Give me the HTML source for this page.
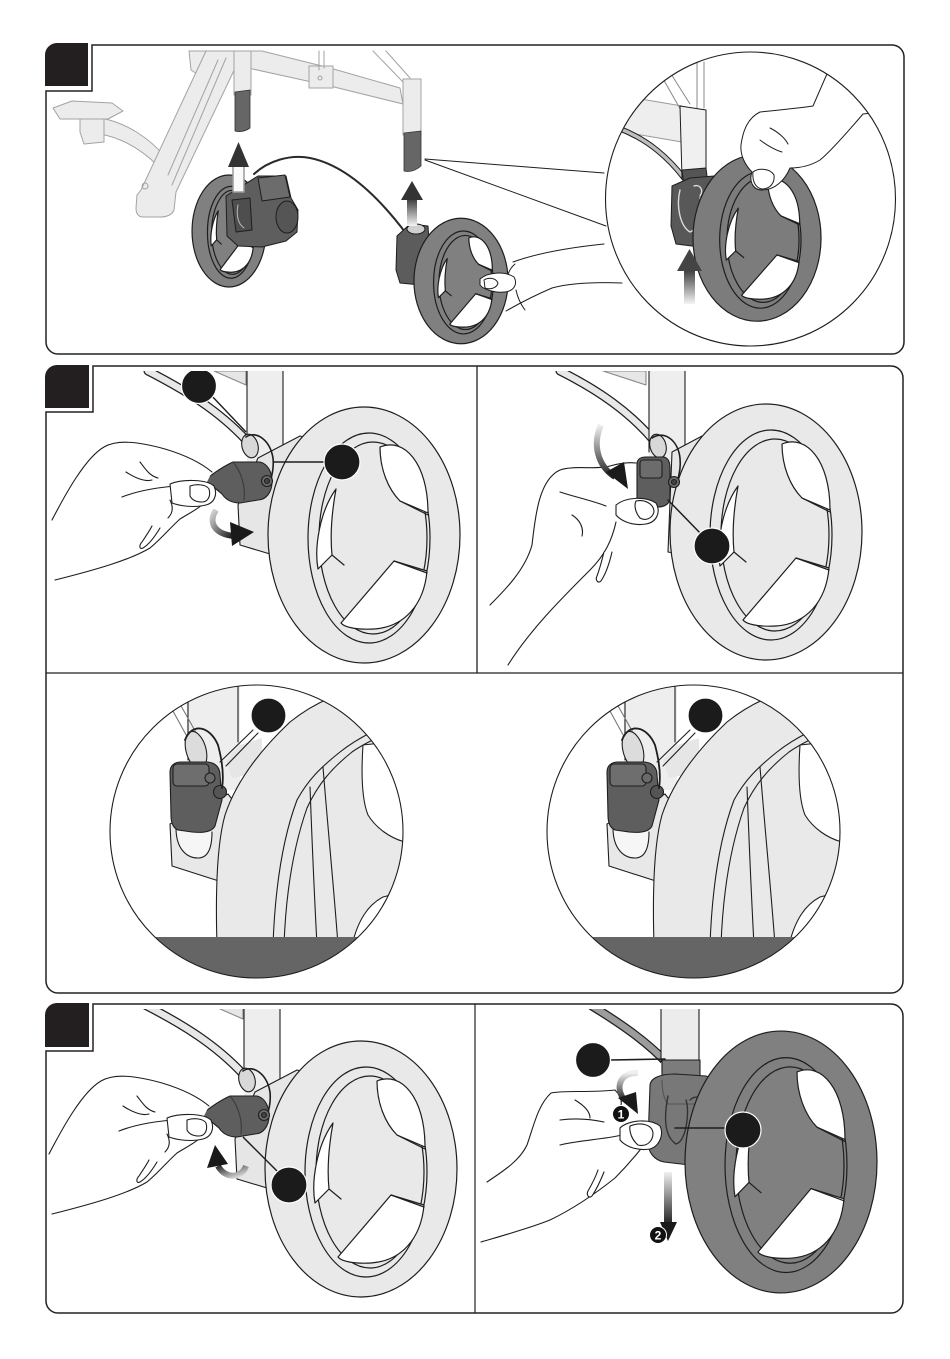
<!DOCTYPE html>
<html><head><meta charset="utf-8"><title>Wheel assembly</title>
<style>html,body{margin:0;padding:0;background:#fff}svg{display:block}</style>
</head><body>
<svg xmlns="http://www.w3.org/2000/svg" width="950" height="1359" viewBox="0 0 950 1359">
<defs>
<linearGradient id="gUp" x1="0" y1="0" x2="0" y2="1"><stop offset="0" stop-color="#3c3c3c"/><stop offset="1" stop-color="#f4f4f4"/></linearGradient>
<linearGradient id="gDn" x1="0" y1="0" x2="0" y2="1"><stop offset="0" stop-color="#f0f0f0"/><stop offset="1" stop-color="#222"/></linearGradient>
<linearGradient id="gR" x1="0" y1="0" x2="1" y2="1"><stop offset="0" stop-color="#d8d8d8"/><stop offset="1" stop-color="#1a1a1a"/></linearGradient>
<linearGradient id="gL" x1="1" y1="1" x2="0" y2="0"><stop offset="0" stop-color="#e4e4e4"/><stop offset="1" stop-color="#2a2a2a"/></linearGradient>
<clipPath id="c1"><rect x="47" y="50" width="856" height="303"/></clipPath>
<clipPath id="cz"><ellipse cx="750.5" cy="199" rx="145" ry="147"/></clipPath>
<clipPath id="c2L"><rect x="47" y="371" width="429" height="301"/></clipPath>
<clipPath id="c2R"><rect x="478" y="371" width="424" height="301"/></clipPath>
<clipPath id="ovc"><ellipse cx="256.5" cy="831.5" rx="146.5" ry="146.5"/></clipPath>
<clipPath id="c3L"><rect x="47" y="1009" width="427" height="303"/></clipPath>
<clipPath id="c3R"><rect x="476" y="1009" width="426" height="303"/></clipPath>

<g id="wheel" stroke="#1e1e1e" stroke-width="1.2" stroke-linejoin="round">
 <ellipse rx="96" ry="128" vector-effect="non-scaling-stroke"/>
 <ellipse cx="5" cy="3" rx="61" ry="105" vector-effect="non-scaling-stroke"/>
 <ellipse cx="9" cy="3" rx="54" ry="96" fill="none" vector-effect="non-scaling-stroke"/>
 <path d="M16,-88 C40,-98 64,-72 64,-22 L36,-34 C24,-46 16,-66 16,-88 Z" fill="#fff" vector-effect="non-scaling-stroke"/>
 <path d="M30,26 L63,36 C60,70 40,92 10,94 C-8,95 -20,92 -23,88 Z" fill="#fff" vector-effect="non-scaling-stroke"/>
 <path d="M-28,-46 C-44,-24 -50,12 -46,34 L-32,20 C-34,0 -32,-24 -28,-46 Z" fill="#fff" vector-effect="non-scaling-stroke"/>
 <path d="M36,-34 L64,-20 M30,26 L63,38 M-32,20 L-20,30" fill="none" vector-effect="non-scaling-stroke"/>
</g>

<g id="p2L" stroke="#1e1e1e" stroke-width="1.1" stroke-linejoin="round" stroke-linecap="round">
 <path d="M214,371 L246,371 L246,385 Z" fill="#e6e6e6" stroke="#888"/>
 <path d="M148,371 C185,390 218,410 246,440" fill="none" stroke="#1e1e1e" stroke-width="9"/>
 <path d="M148,371 C185,390 218,410 246,440" fill="none" stroke="#e8e8e8" stroke-width="6.5"/>
 <rect x="247" y="368" width="36" height="95" fill="#eeeeee" stroke="none"/>
 <path d="M247,368 V455 M283,368 V462" fill="none"/>
 <path d="M258,458 L300,436 L314,440 L316,548 L290,560 L240,545 L238,505 Z" fill="#e6e6e6"/>
 <use href="#wheel" transform="translate(364,535)" fill="#e9e9e9"/>
 <ellipse cx="250" cy="446" rx="8" ry="12" transform="rotate(-15 250 446)" fill="#d8d8d8"/>
 <path d="M246,437 C256,430 270,440 273,458 C274,468 272,476 270,482" fill="none" stroke-width="1.6"/>
 <path d="M205,480 C215,472 224,466 233,462 L260,462 C268,464 272,472 272,482 C272,492 266,500 258,500 L240,503 C232,503 226,500 222,494 C215,488 210,484 205,483 Z" fill="#5e5e5e"/>
 <path d="M233,462 C240,470 246,485 244,500" fill="none" stroke="#3a3a3a"/>
 <circle cx="267" cy="481" r="5.5" fill="#6a6a6a"/>
 <circle cx="267" cy="481" r="2.5" fill="#444"/>
 <path d="M40,522 L52,520 C65,495 85,458 104,447 C118,439 140,442 165,449 C185,455 200,462 212,472 L206,484 L186,484 L184,503 L200,506 C195,512 188,516 180,519 C168,530 158,540 150,548 C130,560 95,570 55,580 L40,582 Z" fill="#fff" stroke="none"/>
 <path d="M52,520 C65,495 85,458 104,447 C118,439 140,442 165,449 C185,455 200,462 212,472" fill="none"/>
 <path d="M55,580 C95,570 130,560 150,548 C160,540 170,528 180,519 C188,514 196,510 202,505" fill="none"/>
 <path d="M122,497 C140,490 160,487 186,485" fill="none"/>
 <path d="M126,472 C135,478 145,482 152,480 M140,462 C146,470 150,476 158,478 M170,500 C174,508 172,514 168,518" fill="none"/>
 <path d="M170,484 C182,479 206,479 214,486 C218,495 214,503 206,505 C194,508 180,506 172,503 Z" fill="#fff"/>
 <path d="M190,486 C196,484 206,484 209,489 C211,496 208,502 202,502 C196,502 192,500 190,496 Z" fill="#fff"/>
 <path d="M160,528 C154,538 148,545 143,548 C139,550 139,545 142,542 C146,536 150,530 152,526" fill="#fff"/>
</g>

<g id="ovalScene">
 <ellipse cx="256.5" cy="831.5" rx="146.5" ry="146.5" fill="#fff"/>
 <g clip-path="url(#ovc)" stroke="#1e1e1e" stroke-width="1.1" stroke-linejoin="round" stroke-linecap="round">
  <path d="M186,680 L240,680 L240,790 L188,790 Z" fill="#eeeeee" stroke="none"/>
  <path d="M188,684 L188,760 M238,680 L238,742" fill="none"/>
  <path d="M168,702 L190,742 M176,697 L198,736" fill="none" stroke="#777"/>
  <path d="M226,760 L240,745 L262,738 L262,772 L232,778 Z" fill="#e6e6e6" stroke="none"/>
  <path d="M170,824 L172,866 L222,882 L245,874 L245,816 L228,794 Z" fill="#e8e8e8"/>
  <path d="M176,828 C176,848 186,858 198,858 C208,858 212,848 212,832" fill="#f6f6f6"/>
  <path d="M217,945 C215,880 218,840 225,815 C235,785 255,755 290,722 C305,710 318,703 330,698 L345,690 L420,690 L420,945 Z" fill="#e9e9e9"/>
  <path d="M273,945 C275,890 282,840 297,800 C308,780 320,768 340,752 C350,744 360,738 372,732" fill="none"/>
  <path d="M284,945 C286,890 294,845 307,808 C318,784 332,768 352,752 C362,745 372,740 385,734" fill="none"/>
  <path d="M310,787 C312,840 314,890 317,945 M323,767 C328,830 334,890 338,945" fill="none"/>
  <path d="M363,745 C361,775 362,800 368,815 C376,828 390,838 405,842 L410,842 L410,740 Z" fill="#fff"/>
  <path d="M352,945 C358,920 368,905 383,897 L410,890 L410,945 Z" fill="#fff"/>
  <ellipse cx="196" cy="750" rx="10" ry="19" transform="rotate(-15 196 750)" fill="#dcdcdc"/>
  <path d="M170,772 C170,766 174,762 181,762 L208,762 C216,763 220,768 220,775 L222,800 L215,826 C212,832 202,833 192,832 L178,830 C173,828 171,822 171,815 Z" fill="#5e5e5e"/>
  <rect x="173" y="764" width="36" height="22" rx="4" fill="#6e6e6e"/>
  <circle cx="210" cy="778" r="5" fill="#6a6a6a"/>
  <circle cx="220" cy="792" r="6.5" fill="#555"/>
  <path d="M185,740 C192,722 210,726 218,745 C222,760 224,776 222,788" fill="none" stroke-width="1.8"/>
  <path d="M253,730 L220,762 M258,733 L226,766" fill="none"/>
  <rect x="100" y="937" width="320" height="60" fill="#656565" stroke="none"/>
 </g>
 <ellipse cx="256.5" cy="831.5" rx="146.5" ry="146.5" fill="none" stroke="#1e1e1e" stroke-width="1.1"/>
 <circle cx="268.5" cy="715.5" r="17.5" fill="#1b1b1b" stroke="#fff" stroke-width="1.2"/>
</g>
</defs>

<!-- ============ PANEL 1 ============ -->
<g clip-path="url(#c1)" stroke-linejoin="round" stroke-linecap="round">
 <g fill="#ececec" stroke="#a3a3a3" stroke-width="1">
  <path d="M100,118 C125,122 150,138 166,158 L158,166 C142,150 122,138 100,134 Z"/>
  <path d="M80,118 L104,118 L104,142 L84,144 L80,132 Z"/>
  <path d="M53,108 L72,101 L112,103 L123,111 L108,119 L60,119 Z"/>
  <path d="M189,51 L213,51 L214,70 L200,76 L191,70 Z"/>
  <path d="M206,51 L236,51 L238,62 L176,192 L174,210 Q171,217 160,217 L142,217 Q136,216 136,208 L137,195 L141,190 Z"/>
  <path d="M218,60 L168,175 M226,58 L172,185" fill="none"/>
  <circle cx="145" cy="186" r="3" fill="none"/>
  <path d="M236,51 L262,51 L330,68 L400,88 L403,104 L330,86 L248,68 Z"/>
  <rect x="309" y="66" width="24" height="22"/>
  <circle cx="320" cy="78" r="2" fill="none"/>
  <path d="M319,51 L319,70 M324,51 L324,68 M373,51 L403,82 M386,51 L410,78" fill="none"/>
  <rect x="234" y="51" width="17" height="44"/>
  <rect x="403" y="79" width="18" height="56"/>
 </g>
 <path d="M235,92 L250,90 L250,128 Q243,133 235,131 Z" fill="#666" stroke="#333" stroke-width="0.8"/>
 <path d="M404,133 L421,131 L421,166 Q413,173 404,171 Z" fill="#666" stroke="#333" stroke-width="0.8"/>
 <!-- left wheel -->
 <use href="#wheel" transform="translate(229,231) scale(0.385,0.4375)" fill="#808080"/>
 <g stroke="#1e1e1e" stroke-width="1">
  <path d="M226,196 L258,176 L286,176 L291,198 L298,210 L297,232 L286,241 L262,247 L238,246 L227,236 Z" fill="#5e5e5e"/>
  <path d="M258,178 L285,175 L290,197 L262,201 Z" fill="#6c6c6c"/>
  <ellipse cx="287" cy="217" rx="11" ry="16" fill="#555"/>
  <path d="M232,200 L250,198 L252,230 L236,232 Z" fill="#4e4e4e"/>
  <path d="M238,205 C236,215 238,224 244,228" fill="none" stroke="#bbb"/>
 </g>
 <rect x="233" y="166" width="11" height="26" fill="#fafafa" stroke="#9a9a9a" stroke-width="1.5"/>
 <path d="M228,167 L238.5,142 L249,167 Z" fill="#333"/>
 <path d="M254,174 C268,161 290,154 310,158 C350,166 385,205 408,236" fill="none" stroke="#2a2a2a" stroke-width="2"/>
 <!-- right wheel -->
 <g stroke="#1e1e1e" stroke-width="1">
  <path d="M397,236 L410,224 L428,226 L431,270 L421,285 L400,283 L396,270 Z" fill="#5c5c5c"/>
  <ellipse cx="416" cy="229" rx="9" ry="5" fill="#cfcfcf"/>
 </g>
 <use href="#wheel" transform="translate(461,281) scale(0.49,0.49)" fill="#808080"/>
 <rect x="407" y="199" width="10" height="27" fill="url(#gUp)"/>
 <path d="M401,200 L412,181 L423,200 Z" fill="#333"/>
 <!-- hand middle -->
 <g stroke="#1e1e1e" stroke-width="1" fill="#fff">
  <path d="M513,262 C535,254 565,248 604,244 L622,283 C595,282 570,283 552,288 C538,294 520,304 506,311 Z" stroke="none"/>
  <path d="M513,262 C535,254 565,248 604,244" fill="none"/>
  <path d="M506,311 C520,303 538,294 552,288 C570,283 595,282 622,283" fill="none"/>
  <path d="M515,264 C508,270 506,278 509,284" fill="none"/>
  <path d="M480,279 C488,272 505,271 514,277 C518,284 514,291 505,292 C495,293 484,290 480,285 Z"/>
  <path d="M484,280 C489,277 496,278 498,283 C497,288 490,290 485,288 Z"/>
  <path d="M516,290 C518,300 522,306 525,310" fill="none"/>
 </g>
 <!-- zoom lines -->
 <path d="M425,159 L604,173 M425,160 L606,226" fill="none" stroke="#1e1e1e" stroke-width="1"/>
 <!-- magnified circle -->
 <ellipse cx="750.5" cy="199" rx="145" ry="147" fill="#fff"/>
 <g clip-path="url(#cz)" stroke="#1e1e1e" stroke-width="1" stroke-linejoin="round">
  <path d="M600,92 L682,106 L682,142 L600,128 Z" fill="#eeeeee" stroke="#9a9a9a"/>
  <path d="M658,70 L682,112 M666,66 L690,104 M697,62 L697,108 M704,62 L704,108" fill="none" stroke="#888"/>
  <path d="M618,128 C650,140 670,160 684,178" fill="none" stroke="#1e1e1e" stroke-width="5.5"/>
  <path d="M618,128 C650,140 670,160 684,178" fill="none" stroke="#bdbdbd" stroke-width="3.5"/>
  <path d="M680,106 L706,110 L706,176 L682,178 Z" fill="#f0f0f0"/>
  <path d="M682,170 L706,168 L708,184 L684,186 Z" fill="#555"/>
  <path d="M672,186 L690,178 L714,176 L716,240 L700,247 L676,244 L671,226 Z" fill="#585858"/>
  <path d="M680,190 C676,206 680,226 690,232 C700,228 704,214 700,198 M694,186 C700,184 704,190 700,196" fill="none" stroke="#dcdcdc" stroke-width="1.4"/>
  <use href="#wheel" transform="translate(757,238) scale(0.667,0.65)" fill="#7c7c7c"/>
  <path d="M833,60 L900,60 L900,110 L863,114 C845,135 830,152 820,160 C810,166 800,168 790,168 C785,180 775,190 762,190 C752,190 749,180 752,172 C745,165 740,155 741,145 C743,130 748,118 760,112 C780,110 800,108 813,106 Z" fill="#fff"/>
  <path d="M753,172 C758,168 770,168 774,175 C775,183 770,189 762,189 C756,188 752,182 753,172 Z" fill="#fff"/>
  <path d="M760,140 C768,146 775,150 782,152 M770,128 C778,132 785,138 788,144" fill="none"/>
  <path d="M684,270 L695,270 L695,304 L684,304 Z" fill="url(#gUp)" stroke="none"/>
  <path d="M677,271 L689.5,249 L702,271 Z" fill="#444" stroke="none"/>
 </g>
 <ellipse cx="750.5" cy="199" rx="145" ry="147" fill="none" stroke="#1e1e1e" stroke-width="1.1"/>
</g>
<path d="M92,45 H892 A12,12 0 0 1 904,57 V342 A12,12 0 0 1 892,354 H58 A12,12 0 0 1 46,342 V91 H92 Z" fill="none" stroke="#222" stroke-width="1.5"/>
<path d="M45,56 A12,12 0 0 1 57,43 H88 V86 H45 Z" fill="#231f20"/>

<!-- ============ PANEL 2 ============ -->
<g clip-path="url(#c2L)">
 <use href="#p2L"/>
 <path d="M210,394 L246,432" stroke="#1e1e1e" stroke-width="1.4" fill="none"/>
 <circle cx="199" cy="386" r="17.5" fill="#1b1b1b" stroke="#fff" stroke-width="1.2"/>
 <path d="M274,462 L326,462" stroke="#1e1e1e" stroke-width="1.6" fill="none"/>
 <circle cx="342" cy="462" r="18" fill="#1b1b1b" stroke="#fff" stroke-width="1.2"/>
 <path d="M216,510 C208,522 214,534 234,536" fill="none" stroke="url(#gR)" stroke-width="6"/>
 <path d="M230,522 L254,532 L232,546 Z" fill="#1a1a1a"/>
</g>
<g clip-path="url(#c2R)" stroke="#1e1e1e" stroke-width="1.1" stroke-linejoin="round" stroke-linecap="round">
 <path d="M603,371 L646,371 L646,385 Z" fill="#e6e6e6" stroke="#888"/>
 <path d="M560,371 C598,390 630,412 655,442" fill="none" stroke="#1e1e1e" stroke-width="9"/>
 <path d="M560,371 C598,390 630,412 655,442" fill="none" stroke="#e8e8e8" stroke-width="6.5"/>
 <rect x="649" y="368" width="36" height="95" fill="#eeeeee" stroke="none"/>
 <path d="M649,368 V452 M685,368 V460" fill="none"/>
 <path d="M672,452 L702,436 L716,440 L716,545 L690,556 L668,552 Z" fill="#e6e6e6"/>
 <use href="#wheel" transform="translate(766,532)" fill="#e9e9e9"/>
 <ellipse cx="658" cy="446" rx="8" ry="12" transform="rotate(-15 658 446)" fill="#d8d8d8"/>
 <path d="M652,438 C664,430 678,440 680,458 C681,468 679,476 677,482" fill="none" stroke-width="1.6"/>
 <path d="M637,464 C637,459 641,457 646,457 L664,457 C668,458 670,462 670,468 L670,498 C670,504 664,507 658,507 L645,507 C640,507 637,503 637,498 Z" fill="#5e5e5e"/>
 <rect x="640" y="460" width="22" height="18" rx="3" fill="#6c6c6c"/>
 <circle cx="674" cy="482" r="5.5" fill="#6a6a6a"/>
 <circle cx="674" cy="482" r="2.5" fill="#444"/>
 <path d="M478,620 L490,605 C505,590 525,570 532,545 C535,520 538,480 560,470 C575,465 595,470 610,466 L636,462 L636,500 L618,520 C610,540 600,555 590,570 C560,600 530,630 508,665 L478,672 Z" fill="#fff" stroke="none"/>
 <path d="M490,605 C505,590 525,570 532,545 C535,520 538,480 560,470 C575,465 595,470 610,466 C620,463 628,462 636,463" fill="none"/>
 <path d="M508,665 C530,630 560,600 590,570 C605,555 612,540 616,522" fill="none"/>
 <path d="M560,492 C575,497 590,500 606,506 M572,515 C580,520 584,528 582,536" fill="none"/>
 <path d="M616,505 C626,497 645,496 656,503 C661,512 657,522 646,524 C634,526 622,522 616,515 Z" fill="#fff"/>
 <path d="M636,501 C645,499 654,504 654,512 C652,519 645,521 640,518 C635,512 634,505 636,501 Z" fill="#fff"/>
 <path d="M612,552 C609,565 605,575 601,581 C598,584 595,580 597,576 C600,568 602,560 604,552" fill="#fff"/>
 <path d="M668,500 L702,535" fill="none" stroke-width="1.5"/>
 <circle cx="712" cy="546" r="18" fill="#1b1b1b" stroke="#fff" stroke-width="1.2"/>
 <path d="M601,425 C592,445 598,466 615,477" fill="none" stroke="url(#gDn)" stroke-width="6" stroke-linecap="butt"/>
 <path d="M606,472 L628,489 L624,462 Z" fill="#1a1a1a" stroke="none"/>
</g>
<use href="#ovalScene"/>
<use href="#ovalScene" transform="translate(437,0)"/>
<path d="M93,366 H891 A12,12 0 0 1 903,378 V981 A12,12 0 0 1 891,993 H58 A12,12 0 0 1 46,981 V412 H93 Z" fill="none" stroke="#222" stroke-width="1.5"/>
<path d="M46,673 H903 M477,366 V673" fill="none" stroke="#222" stroke-width="1.3"/>
<path d="M45,377 A12,12 0 0 1 57,365 H89 V408 H45 Z" fill="#231f20"/>

<!-- ============ PANEL 3 ============ -->
<g clip-path="url(#c3L)">
 <use href="#p2L" transform="translate(-3,634)"/>
 <path d="M243,1137 L281,1175" stroke="#1e1e1e" stroke-width="1.5" fill="none"/>
 <circle cx="289" cy="1185" r="18" fill="#1b1b1b" stroke="#fff" stroke-width="1.2"/>
 <path d="M246,1166 C242,1178 226,1180 218,1166" fill="none" stroke="url(#gL)" stroke-width="6"/>
 <path d="M207,1168 L215,1145 L228,1164 Z" fill="#1a1a1a"/>
</g>
<g clip-path="url(#c3R)" stroke="#1e1e1e" stroke-width="1.1" stroke-linejoin="round" stroke-linecap="round">
 <path d="M592,1006 C618,1022 645,1040 666,1062" fill="none" stroke="#1e1e1e" stroke-width="9"/>
 <path d="M592,1006 C618,1022 645,1040 666,1062" fill="none" stroke="#9c9c9c" stroke-width="6.5"/>
 <rect x="661" y="1006" width="38" height="66" fill="#ececec" stroke="none"/>
 <path d="M661,1006 V1062 M699,1006 V1062" fill="none"/>
 <path d="M698,1090 L722,1078 L730,1082 L730,1160 L705,1170 Z" fill="#666"/>
 <path d="M662,1060 L700,1060 L700,1080 C690,1086 672,1086 662,1080 Z" fill="#7c7c7c"/>
 <path d="M650,1086 C650,1078 660,1074 675,1074 L706,1076 C716,1078 720,1086 720,1096 L720,1150 C720,1160 710,1166 698,1166 L664,1162 C654,1160 648,1152 648,1142 Z" fill="#787878"/>
 <path d="M662,1080 C662,1090 664,1100 668,1104 L698,1104" fill="none" stroke="#555"/>
 <path d="M668,1096 C664,1116 664,1136 676,1144 C686,1142 690,1112 686,1100 M690,1100 C696,1094 704,1098 700,1106" fill="none" stroke="#333" stroke-width="1.4"/>
 <use href="#wheel" transform="translate(781,1162) scale(1,1.023)" fill="#808080"/>
 <path d="M560,1092 L590,1093 L615,1090 L624,1110 L660,1126 L640,1150 C628,1165 615,1178 600,1190 C575,1208 550,1220 520,1232 L481,1242 L476,1242 L476,1185 L487,1182 C505,1170 520,1160 527,1145 C534,1125 538,1105 551,1093 Z" fill="#fff" stroke="none"/>
 <path d="M487,1182 C505,1170 520,1160 527,1145 C534,1125 538,1105 551,1093 C565,1090 590,1093 615,1090 C620,1095 622,1100 621,1105" fill="none"/>
 <path d="M481,1242 C505,1235 530,1228 550,1220 C575,1208 600,1190 615,1178 C625,1168 632,1160 640,1150" fill="none"/>
 <path d="M560,1120 C575,1118 590,1119 604,1122 M560,1145 C580,1140 600,1140 622,1135 M575,1100 C585,1106 590,1112 590,1118" fill="none"/>
 <path d="M620,1128 C628,1120 650,1118 660,1126 C664,1134 660,1146 650,1149 C638,1151 626,1147 620,1140 Z" fill="#fff"/>
 <path d="M630,1126 C640,1122 652,1124 653,1133 C653,1142 646,1147 638,1145 C632,1140 629,1132 630,1126 Z" fill="#fff"/>
 <path d="M604,1172 C600,1182 596,1190 592,1196 C589,1199 586,1195 588,1191 C592,1184 596,1176 598,1170" fill="#fff"/>
 <path d="M610,1060 L665,1059" fill="none" stroke-width="1.6"/>
 <circle cx="593" cy="1060" r="17.5" fill="#1b1b1b" stroke="#fff" stroke-width="1.2"/>
 <path d="M675,1128 L726,1128" fill="none" stroke-width="1.6"/>
 <circle cx="743" cy="1130" r="18" fill="#1b1b1b" stroke="#fff" stroke-width="1.2"/>
 <path d="M638,1073 C622,1072 614,1085 624,1100" fill="none" stroke="url(#gDn)" stroke-width="6" stroke-linecap="butt"/>
 <path d="M618,1098 L638,1114 L636,1092 Z" fill="#1a1a1a" stroke="none"/>
 <rect x="664" y="1172" width="8" height="52" fill="url(#gDn)" stroke="none"/>
 <path d="M660,1222 L677,1222 L668,1241 Z" fill="#1a1a1a" stroke="none"/>
 <circle cx="621" cy="1114" r="8.5" fill="#111" stroke="#fff" stroke-width="1"/>
 <circle cx="658" cy="1235" r="8.5" fill="#111" stroke="#fff" stroke-width="1"/>
</g>
<text x="621" y="1118.5" font-family="Liberation Sans, sans-serif" font-size="12" font-weight="bold" fill="#fff" text-anchor="middle">1</text>
<text x="658" y="1239.5" font-family="Liberation Sans, sans-serif" font-size="12" font-weight="bold" fill="#fff" text-anchor="middle">2</text>
<path d="M93,1004 H891 A12,12 0 0 1 903,1016 V1301 A12,12 0 0 1 891,1313 H58 A12,12 0 0 1 46,1301 V1051 H93 Z" fill="none" stroke="#222" stroke-width="1.5"/>
<path d="M475,1004 V1313" fill="none" stroke="#222" stroke-width="1.2"/>
<path d="M45,1015 A12,12 0 0 1 57,1003 H89 V1047 H45 Z" fill="#231f20"/>
</svg>
</body></html>
